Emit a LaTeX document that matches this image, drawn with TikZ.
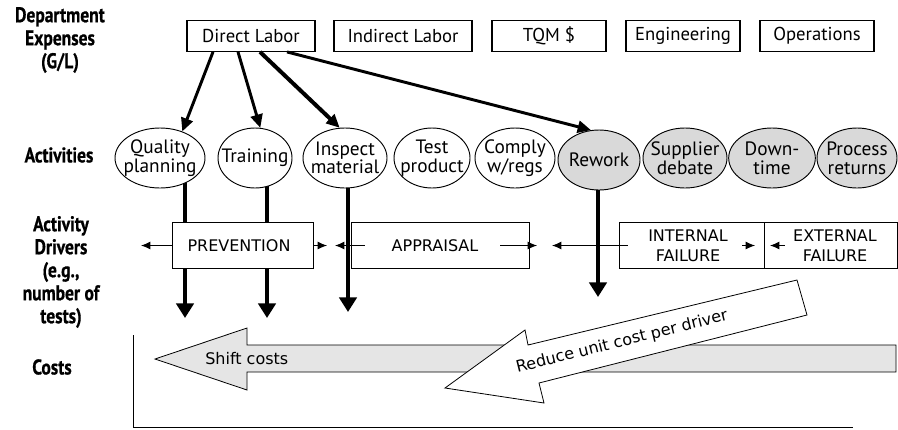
\documentclass[tikz,border=0pt]{standalone}
\usepackage{fontspec}
\setmainfont{PT Sans}
\newfontfamily\drvfont{DejaVu Sans}
\newfontfamily\lblfont[FakeStretch=0.82,FakeBold=0.6]{PT Sans}
\usetikzlibrary{shapes.geometric,arrows.meta,calc,backgrounds}

\tikzset{
  rowlbl/.style={font=\lblfont\bfseries\fontsize{16}{17.25}\selectfont, align=center},
  expbox/.style={draw, line width=0.9pt, minimum height=23pt, inner sep=0pt, font=\fontsize{14}{16}\selectfont},
  act/.style={ellipse, draw, fill=white, line width=0.7pt, minimum height=45pt, inner sep=0pt},
  actgray/.style={act, fill=gray!30},
  actlbl/.style={font=\fontsize{14.5}{14}\selectfont, align=center, inner sep=0pt},
  drvbox/.style={draw, fill=white, line width=0.7pt, minimum height=34pt, inner sep=0pt},
  drvtxt/.style={font=\drvfont\fontsize{12}{15}\selectfont, align=center, inner sep=0pt},
  feed/.style={-{Triangle[length=10pt,width=9pt]}, line width=2.2pt},
  flow/.style={-{Triangle[length=11pt,width=13pt]}, line width=3.5pt},
  tick/.style={-{Latex[length=7pt,width=6pt]}, line width=0.75pt},
}

\begin{document}
\begin{tikzpicture}[x=0.75pt,y=-0.75pt]
  \useasboundingbox (0,0) rectangle (898,429);

  \node[rowlbl] (lexp) at (60,40) {Department\\Expenses\\(G/L)};
  \node[rowlbl] (lact) at (59,155) {Activities};
  \node[rowlbl] (ldrv) at (61,272) {Activity\\Drivers\\(e.g.,\\number of\\tests)};
  \node[rowlbl] (lcost) at (52,367) {Costs};

  \node[expbox, minimum width=96pt] (dl) at (251,36) {Direct Labor};
  \node[expbox, minimum width=103.5pt] (il) at (403,36) {Indirect Labor};
  \node[expbox, minimum width=85.5pt] (tqm) at (549,36) {TQM \$};
  \node[expbox, minimum width=85.5pt] (eng) at (683,36) {Engineering};
  \node[expbox, minimum width=85.5pt] (ops) at (817,36) {Operations};

  \node[act, minimum width=67.5pt, label={[actlbl]center:{Quality\\planning}}] (qp) at (160,158) {};
  \node[act, minimum width=55.5pt, label={[actlbl]center:{Training}}] (tr) at (255,158) {};
  \node[act, minimum width=63pt, label={[actlbl]center:{Inspect\\material}}] (ins) at (345,158) {};
  \node[act, minimum width=57pt, label={[actlbl]center:{Test\\product}}] (tp) at (432,158) {};
  \node[act, minimum width=60pt, label={[actlbl]center:{Comply\\w/regs}}] (cw) at (515,158) {};
  \node[actgray, minimum width=61.5pt, label={[actlbl]center:{Rework}}] (rw) at (599,160) {};
  \node[actgray, minimum width=63pt, label={[actlbl]center:{Supplier\\debate}}] (sd) at (685,158) {};
  \node[actgray, minimum width=65pt, label={[actlbl]center:{Down-\\time}}] (dt) at (772,158) {};
  \node[actgray, minimum width=60pt, label={[actlbl]center:{Process\\returns}}] (pr) at (857,158) {};

  \draw[feed] ($(dl.south)+(-38,0)$) -- (qp.50);
  \draw[feed] ($(dl.south)+(-13,0)$) -- (tr.80);
  \draw[feed, line width=3pt] ($(dl.south)+(9,0)$) -- (ins.100);
  \draw[feed] ($(dl.south)+(36,0)$) -- (rw.105);

  \node[drvbox, minimum width=105.75pt] (prev) at (242.5,245.5) {};
  \node[drvtxt] (prevt) at (239,245.5) {PREVENTION};
  \node[drvbox, minimum width=133.5pt] (appr) at (440,245.5) {};
  \node[drvtxt] (apprt) at (435,245.5) {APPRAISAL};
  \node[drvbox, minimum width=108.75pt] (intf) at (691.5,245.5) {};
  \node[drvtxt] (intft) at (688,245.5) {INTERNAL\\FAILURE};
  \node[drvbox, minimum width=99.75pt] (extf) at (830.5,245.5) {};
  \node[drvtxt] (extft) at (835,245.5) {EXTERNAL\\FAILURE};

  \coordinate (qpend) at (185,318);
  \coordinate (trend) at (267,318);
  \coordinate (insend) at (348,312);
  \coordinate (rwend) at (598,297);
  \begin{scope}[on background layer]
    \draw[flow] (qp.center -| qpend) -- (qpend);
    \draw[flow] (tr.center -| trend) -- (trend);
    \draw[flow] (ins.center -| insend) -- (insend);
    \draw[flow] (rw.center -| rwend) -- (rwend);
  \end{scope}

  \coordinate (t1) at (141,245.5);
  \coordinate (t2) at (327,245.5);
  \coordinate (t3) at (335,245.5);
  \coordinate (t4) at (537,245.5);
  \coordinate (t5) at (552,245.5);
  \coordinate (t6) at (755,245.5);
  \coordinate (t7) at (770,245.5);
  \draw[tick] (prev.west) -- (t1);
  \draw[tick] (prev.east) -- (t2);
  \draw[tick] ($(appr.west)+(14,0)$) -- (t3);
  \draw[tick] ($(appr.east)+(-29,0)$) -- (t4);
  \draw[tick] ($(intf.west)+(9,0)$) -- (t5);
  \draw[tick] ($(intf.east)+(-22,0)$) -- (t6);
  \draw[tick] ($(extf.west)+(21,0)$) -- (t7);

  \draw[line width=0.75pt] (133,335) |- (853,427);

  \draw[fill=gray!20, line width=0.6pt] (155,359) -- (247,328) -- (247,345) -- (896,345)
    -- (896,372) -- (247,372) -- (247,390) -- cycle;
  \node[drvtxt, anchor=west] (shift) at (205,359) {Shift costs};

  \draw[fill=white, line width=0.6pt] (445,388) -- (525,330) -- (528,345) -- (797,280)
    -- (807,315) -- (539,383) -- (544,403) -- cycle;
  \node[drvtxt, rotate=14] (reduce) at (622,342) {Reduce unit cost per driver};
\end{tikzpicture}
\end{document}
